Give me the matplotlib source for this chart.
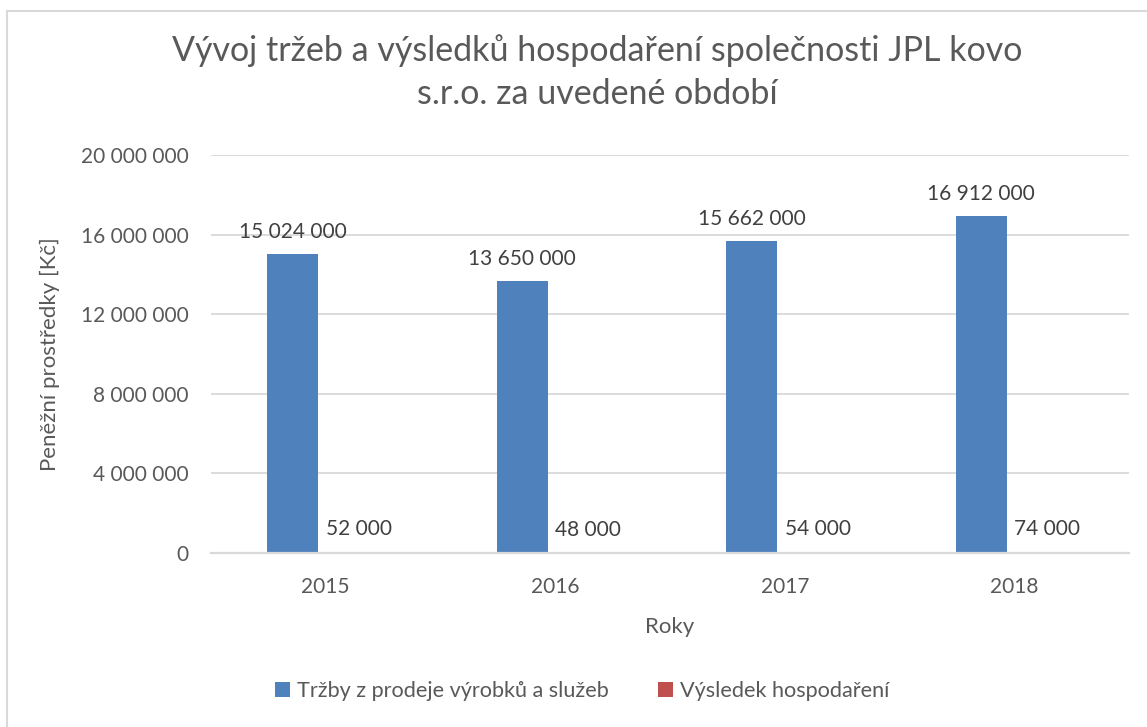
import matplotlib
matplotlib.use("Agg")
import matplotlib.pyplot as plt
import numpy as np
from matplotlib.patches import Rectangle

years = ["2015", "2016", "2017", "2018"]
trzby = [15024000, 13650000, 15662000, 16912000]
vysledek = [52000, 48000, 54000, 74000]
series_names = ["Tržby z prodeje výrobků a služeb", "Výsledek hospodaření"]
yticks = [0, 4000000, 8000000, 12000000, 16000000, 20000000]

plt.rcParams['font.family'] = ['Lato', 'DejaVu Sans']
TXT = '#595959'

W, H = 1147, 727
fig = plt.figure(figsize=(W / 100, H / 100), dpi=100)
fig.patch.set_facecolor('white')

# chart border
fig.add_artist(Rectangle((7 / W, -0.05), 1.2, 1 - 11 / H + 0.05, transform=fig.transFigure,
                         fill=False, edgecolor='#d9d9d9', lw=1.5))

ax = fig.add_axes([211 / W, 1 - 553 / H, (1129 - 211) / W, (553 - 155) / H])

fmt = lambda v: f"{int(v):,}".replace(",", " ")
x = np.arange(len(years))
bw = 0.222
off = 0.144
b1 = ax.bar(x - off, trzby, bw, color='#4F81BD', label=series_names[0], zorder=3)
b2 = ax.bar(x + off, vysledek, bw, color='#C0504D', label=series_names[1], zorder=3)

for rects, vals in ((b1, trzby), (b2, vysledek)):
    for r, v in zip(rects, vals):
        ax.annotate(fmt(v), (r.get_x() + r.get_width() / 2, v), xytext=(0, 9),
                    textcoords='offset points', ha='center', va='bottom',
                    fontsize=15, color='#404040')

ax.set_xlim(-0.5, len(years) - 0.5)
ax.set_ylim(0, 20000000)
ax.set_yticks(yticks)
ax.set_yticklabels([fmt(v) for v in yticks])
ax.set_xticks(x)
ax.set_xticklabels(years)
ax.tick_params(axis='both', length=0, labelsize=15, colors=TXT)
ax.tick_params(axis='y', pad=16)
ax.tick_params(axis='x', pad=17)
ax.grid(axis='y', color='#d9d9d9', lw=1.3, zorder=0)
for s in ('top', 'right', 'left'):
    ax.spines[s].set_visible(False)
ax.spines['bottom'].set_color('#d9d9d9')
ax.spines['bottom'].set_linewidth(1.6)
ax.spines['bottom'].set_zorder(4)

ax.set_xlabel("Roky", fontsize=16, color=TXT, labelpad=15)
ax.set_ylabel("Peněžní prostředky [Kč]", fontsize=16, color=TXT, labelpad=15)

fig.text(597 / W, 1 - 72 / H, "Vývoj tržeb a výsledků hospodaření společnosti JPL kovo\ns.r.o. za uvedené období",
         ha='center', va='center', fontsize=24.5, color=TXT, fontweight='normal', linespacing=1.4)

fig.legend(handles=[b1, b2], loc='center', bbox_to_anchor=(582 / W, 1 - 691 / H), ncol=2,
           frameon=False, fontsize=15.6, labelcolor=TXT, handlelength=0.7, handleheight=0.7,
           handletextpad=0.3, columnspacing=2.3)

fig.savefig("out.png", dpi=100)
